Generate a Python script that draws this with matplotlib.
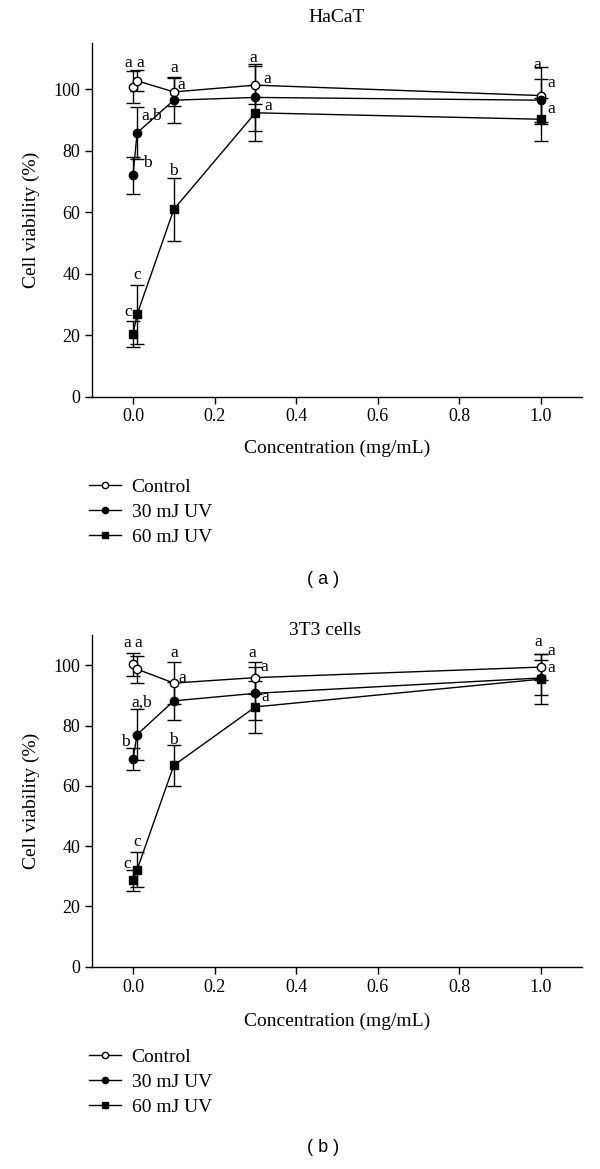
import numpy as np
import matplotlib
matplotlib.use("Agg")
import matplotlib.pyplot as plt

plt.rcParams['font.family'] = ['Liberation Serif', 'DejaVu Serif']

conc = [0, 0.01, 0.1, 0.3, 1.0]
series_names = ["Control", "30 mJ UV", "60 mJ UV"]

# HaCaT
hacat_ctrl = [100.7, 102.7, 99.1, 101.3, 97.9]
hacat_ctrl_err = [5.3, 3.4, 4.7, 6.2, 9.4]
hacat_30 = [72.0, 85.8, 96.4, 97.3, 96.4]
hacat_30_err = [6.0, 8.4, 7.3, 10.9, 7.0]
hacat_60 = [20.4, 26.7, 60.9, 92.3, 90.2]
hacat_60_err = [4.2, 9.7, 10.2, 9.1, 7.0]
hacat_letters = [(-0.012, 108.4, "a"), (0.017, 108.4, "a"), (0.1, 106.8, "a"),
                 (0.118, 101.3, "a"), (0.046, 91.5, "a,b"), (0.036, 76.0, "b"),
                 (0.098, 73.4, "b"), (0.009, 39.5, "c"), (-0.012, 27.6, "c"),
                 (0.294, 110.0, "a"), (0.33, 103.3, "a"), (0.331, 94.5, "a"),
                 (0.99, 107.8, "a"), (1.024, 101.9, "a"), (1.026, 93.4, "a")]

# 3T3 cells
t3_ctrl = [100.3, 98.7, 94.1, 95.9, 99.4]
t3_ctrl_err = [3.8, 4.5, 7.1, 5.3, 4.4]
t3_30 = [68.9, 77.0, 88.2, 90.7, 95.8]
t3_30_err = [3.8, 8.5, 6.3, 8.8, 5.8]
t3_60 = [28.7, 32.2, 66.8, 86.2, 95.4]
t3_60_err = [3.5, 5.7, 6.7, 8.7, 8.3]
t3_letters = [(-0.015, 107.5, "a"), (0.013, 107.5, "a"), (0.1, 104.2, "a"),
              (0.121, 95.8, "a"), (0.022, 87.6, "a,b"), (-0.018, 74.6, "b"),
              (0.1, 75.2, "b"), (0.009, 41.3, "c"), (-0.015, 34.0, "c"),
              (0.293, 104.2, "a"), (0.321, 99.4, "a"), (0.325, 89.5, "a"),
              (0.993, 107.8, "a"), (1.024, 104.6, "a"), (1.024, 99.2, "a")]

x_ticks = [0.0, 0.2, 0.4, 0.6, 0.8, 1.0]
y_ticks = [0, 20, 40, 60, 80, 100]

styles = [dict(marker='o', mfc='white', ms=6),
          dict(marker='o', mfc='black', ms=6),
          dict(marker='s', mfc='black', ms=6)]


def draw_panel(ax, data, letters, title, title_pos, ymax, xlab_y):
    for (vals, errs), st in zip(data, styles):
        ax.errorbar(conc, vals, yerr=errs, color='black', lw=1.0, elinewidth=1.0,
                    capsize=5, capthick=1.0, mec='black', mew=1.0, **st)
    for x, y, t in letters:
        ax.text(x, y, t, ha='center', va='center', fontsize=12.5)
    ax.set_xlim(-0.1, 1.1)
    ax.set_ylim(0, ymax)
    ax.set_xticks(x_ticks)
    ax.set_xticklabels(["{:.1f}".format(v) for v in x_ticks])
    ax.set_yticks(y_ticks)
    ax.tick_params(direction='out', length=5, width=1, labelsize=13)
    for s in ['top', 'right']:
        ax.spines[s].set_visible(False)
    ax.spines['left'].set_linewidth(1)
    ax.spines['bottom'].set_linewidth(1)
    ax.set_ylabel("Cell viability (%)", fontsize=14)
    ax.set_xlabel("Concentration (mg/mL)", fontsize=14)
    ax.yaxis.set_label_coords(-0.106, 0.5)
    ax.xaxis.set_label_coords(0.5, xlab_y)
    ax.text(title_pos[0], title_pos[1], title, transform=ax.transAxes,
            ha='center', va='center', fontsize=14)


fig = plt.figure(figsize=(6, 11.69), dpi=100)
ax1 = fig.add_axes([0.1537, 0.6608, 0.816, 0.3024])
ax2 = fig.add_axes([0.1537, 0.1730, 0.816, 0.2837])

draw_panel(ax1, [(hacat_ctrl, hacat_ctrl_err), (hacat_30, hacat_30_err), (hacat_60, hacat_60_err)],
           hacat_letters, "HaCaT", (0.5, 1.0735), 115, -0.123)
draw_panel(ax2, [(t3_ctrl, t3_ctrl_err), (t3_30, t3_30_err), (t3_60, t3_60_err)],
           t3_letters, "3T3 cells", (0.475, 1.015), 110, -0.137)

for ax, ytop, tag, ytag in [(ax1, 0.591, "( a )", 0.5047), (ax2, 0.1035, "( b )", 0.018)]:
    handles = [plt.Line2D([], [], color='black', lw=1.0, marker=st['marker'], mfc=st['mfc'],
                          mec='black', ms=4.5) for st in styles]
    ax.legend(handles, series_names, loc='upper left', bbox_to_anchor=(0.148, ytop),
              bbox_transform=fig.transFigure, frameon=False, borderaxespad=0, borderpad=0,
              fontsize=14, handlelength=1.65, handletextpad=0.55, labelspacing=0.38)
    fig.text(0.538, ytag, tag, ha='center', va='center', fontsize=13, family='Liberation Sans')

fig.savefig("out.png", dpi=100)
